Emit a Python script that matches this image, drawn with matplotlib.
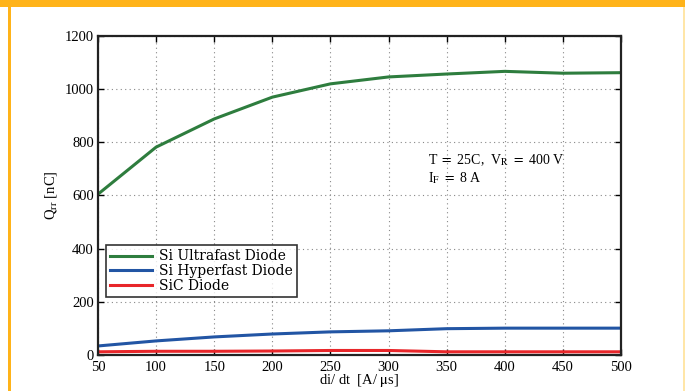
import matplotlib
matplotlib.use("Agg")
import matplotlib.pyplot as plt
from matplotlib.patches import Rectangle

didt = [50, 100, 150, 200, 250, 300, 350, 400, 450, 500]
si_ultrafast = [605, 782, 888, 970, 1020, 1046, 1057, 1067, 1060, 1062]
si_hyperfast = [34, 53, 68, 79, 87, 91, 99, 101, 101, 101]
sic = [12, 14, 14, 15, 17, 17, 12, 12, 12, 12]

series_names = ["Si Ultrafast Diode", "Si Hyperfast Diode", "SiC Diode"]
series_colors = ["#2e7d3e", "#2255a4", "#e8262a"]

xticks = [50, 100, 150, 200, 250, 300, 350, 400, 450, 500]
yticks = [0, 200, 400, 600, 800, 1000, 1200]

plt.rcParams['font.family'] = ['Liberation Serif', 'DejaVu Serif']
plt.rcParams['mathtext.fontset'] = 'stix'

fig = plt.figure(figsize=(6.85, 3.91), dpi=100)
fig.patch.set_facecolor('white')
# orange frame
fig.add_artist(Rectangle((0, 1 - 7/391), 1, 7/391, transform=fig.transFigure,
                         facecolor='#ffb319', edgecolor='none'))
fig.add_artist(Rectangle((8/685, 0), 2.5/685, 1, transform=fig.transFigure,
                         facecolor='#ffb319', edgecolor='none'))
fig.add_artist(Rectangle((683/685, 0), 2/685, 1 - 7/391, transform=fig.transFigure,
                         facecolor='#ffe6a8', edgecolor='none'))

ax = fig.add_axes([98/685, 1 - 355/391, (621-98)/685, (355-36)/391])
for y, name, c in zip([si_ultrafast, si_hyperfast, sic], series_names, series_colors):
    ax.plot(didt, y, color=c, lw=2.2, label=name)

ax.set_xlim(50, 500)
ax.set_ylim(0, 1200)
ax.set_xticks(xticks)
ax.set_yticks(yticks)
ax.grid(True, linestyle=(0, (1, 3)), color='#888888', lw=0.8)
ax.tick_params(labelsize=10.5, direction='in', length=4, width=1, top=True, right=True)
ax.tick_params(axis='x', pad=4)
ax.tick_params(axis='y', pad=3)
for s in ax.spines.values():
    s.set_linewidth(1.6)
    s.set_color('#222222')

ax.set_xlabel(r'di/ dt  [A/ $\mathrm{\mu}$s]', fontsize=10.5, labelpad=-1)
ax.set_ylabel(r'Q$_{\mathrm{rr}}$ [nC]', fontsize=10.5, labelpad=4)

ax.text(334, 734, r'T $=$ 25C,  V$_{\mathrm{R}}$ $=$ 400 V', fontsize=10, ha='left', va='center')
ax.text(334, 664, r'I$_{\mathrm{F}}$ $=$ 8 A', fontsize=10, ha='left', va='center')

leg = ax.legend(loc='lower left', bbox_to_anchor=(0.0153, 0.182),
                prop={'family': 'DejaVu Serif', 'size': 10},
                frameon=True, fancybox=False, edgecolor='black', handlelength=3.0,
                borderpad=0.3, labelspacing=0.05, handletextpad=0.5, borderaxespad=0)
leg.get_frame().set_linewidth(1.2)

fig.savefig('out.png', dpi=100, facecolor='white')
